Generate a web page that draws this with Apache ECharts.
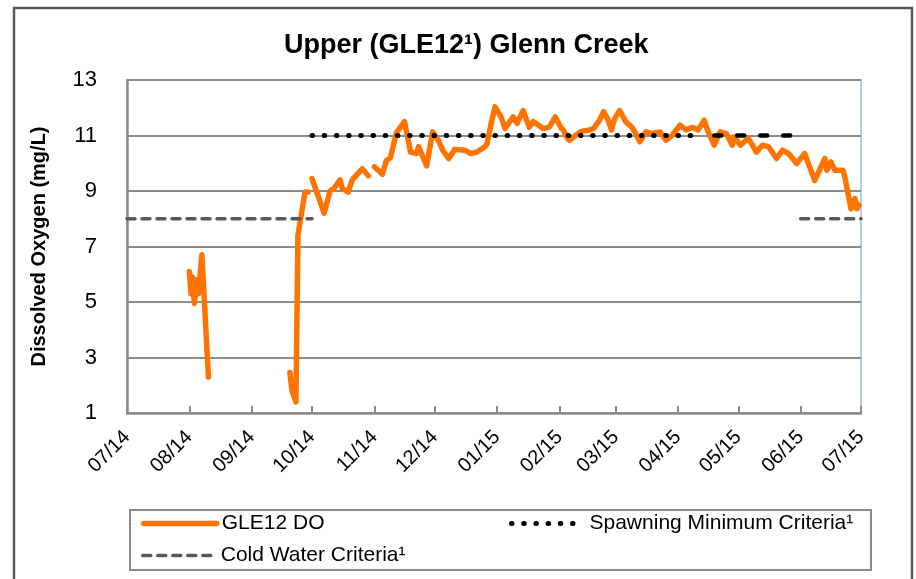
<!DOCTYPE html>
<html>
<head>
<meta charset="utf-8">
<script src="https://cdn.jsdelivr.net/npm/echarts@6/dist/echarts.min.js"></script>
<style>
  html, body { margin: 0; padding: 0; background: #fff; }
  #chart { width: 916px; height: 579px; }
</style>
</head>
<body>
<div id="chart"></div>
<script>
// ── Data ───────────────────────────────────────────────────────────────────
const titleText = "Upper (GLE12\u00B9) Glenn Creek";
const yAxisTitle = "Dissolved Oxygen (mg/L)";
const yTicks = [1, 3, 5, 7, 9, 11, 13];
const monthTicks = [
  "2014-07-01", "2014-08-01", "2014-09-01", "2014-10-01", "2014-11-01",
  "2014-12-01", "2015-01-01", "2015-02-01", "2015-03-01", "2015-04-01",
  "2015-05-01", "2015-06-01", "2015-07-01",
];

// GLE12 DO, null = gap in record
const doDates = [
  "2014-08-01 00:00", "2014-08-01 20:00", "2014-08-02 12:00", "2014-08-03 12:00",
  "2014-08-04 18:00", "2014-08-05 12:00", "2014-08-07 06:00", "2014-08-10 12:00",
  "2014-08-20",
  "2014-09-20", "2014-09-21", "2014-09-23", "2014-09-24", "2014-09-27 12:00",
  "2014-09-29", "2014-09-30",
  "2014-10-01", "2014-10-07", "2014-10-10", "2014-10-12", "2014-10-15",
  "2014-10-16", "2014-10-19", "2014-10-21", "2014-10-26", "2014-10-29",
  "2014-10-31",
  "2014-11-01", "2014-11-05", "2014-11-07", "2014-11-09", "2014-11-12",
  "2014-11-16", "2014-11-19", "2014-11-22", "2014-11-23", "2014-11-27",
  "2014-11-30", "2014-12-03", "2014-12-05", "2014-12-08", "2014-12-11",
  "2014-12-16", "2014-12-19", "2014-12-22", "2014-12-26", "2014-12-27",
  "2014-12-29", "2014-12-31", "2015-01-03", "2015-01-05", "2015-01-09",
  "2015-01-11", "2015-01-14", "2015-01-17", "2015-01-19", "2015-01-24",
  "2015-01-27", "2015-01-30", "2015-02-02", "2015-02-03", "2015-02-05",
  "2015-02-06", "2015-02-09", "2015-02-12", "2015-02-16", "2015-02-18",
  "2015-02-21", "2015-02-23", "2015-02-25", "2015-02-27", "2015-02-28",
  "2015-03-01", "2015-03-03", "2015-03-06", "2015-03-09", "2015-03-11",
  "2015-03-13", "2015-03-16", "2015-03-19", "2015-03-23", "2015-03-26",
  "2015-03-29", "2015-04-02", "2015-04-05", "2015-04-08", "2015-04-11",
  "2015-04-14", "2015-04-16", "2015-04-19", "2015-04-22", "2015-04-25",
  "2015-04-28", "2015-04-29", "2015-05-02", "2015-05-06", "2015-05-10",
  "2015-05-13", "2015-05-16", "2015-05-20", "2015-05-23", "2015-05-26",
  "2015-05-30", "2015-06-03", "2015-06-08", "2015-06-13", "2015-06-14",
  "2015-06-16", "2015-06-18", "2015-06-22", "2015-06-23", "2015-06-26",
  "2015-06-28", "2015-06-29", "2015-06-30",
];
const doValues = [
  6.1, 5.3, 5.9, 4.95,
  5.8, 5.3, 6.7, 2.3,
  null,
  2.46, 1.8, 1.4, 7.4, 8.96,
  8.96, null,
  9.45, 8.2, 9.0, 9.1, 9.4,
  9.1, 8.96, 9.4, 9.8, 9.55,
  null,
  9.87, 9.6, 10.1, 10.2, 11.1,
  11.5, 10.4, 10.35, 10.6, 9.9,
  11.13, 10.8, 10.47, 10.17, 10.5,
  10.47, 10.35, 10.4, 10.6, 10.7,
  11.4, 12.03, 11.67, 11.25, 11.67,
  11.44, 11.9, 11.3, 11.5, 11.25,
  11.3, 11.67, 11.25, 11.2, 10.9,
  10.83, 11.0, 11.15, 11.2, 11.25,
  11.55, 11.86, 11.6, 11.2, 11.5,
  11.67, 11.9, 11.5, 11.3, 11.07,
  10.77, 11.13, 11.07, 11.13, 10.83,
  11.0, 11.37, 11.2, 11.3, 11.2,
  11.55, 11.13, 10.65, 11.13, 11.07,
  10.65, 10.95, 10.65, 10.9, 10.4,
  10.65, 10.6, 10.17, 10.47, 10.35,
  9.99, 10.35, 9.38, 10.17, 9.75,
  10.05, 9.75, 9.75, 9.5, 8.36,
  8.73, 8.36, 8.5,
];

// Spawning minimum criteria (dotted part, then dashed tail)
const spawnDates = ["2014-10-01", "2015-04-13"];
const spawnValues = [11, 11];
const spawnTailDates = ["2015-04-19", "2015-05-31"];
const spawnTailValues = [11, 11];

// Cold water criteria
const coldDates = ["2014-07-01", "2014-10-01", "2015-01-01", "2015-06-01", "2015-07-01"];
const coldValues = [8, 8, null, 8, 8];

// ── Helpers ────────────────────────────────────────────────────────────────
const FONT = "'Liberation Sans', Arial, sans-serif";

// "YYYY-MM-DD[ HH:mm]" → local timestamp (ms)
function toTime(s) {
  const [day, clock] = s.split(" ");
  const p = day.split("-").map(Number);
  const hm = clock ? clock.split(":").map(Number) : [0, 0];
  return new Date(p[0], p[1] - 1, p[2], hm[0], hm[1]).getTime();
}

function pair(dates, values) {
  return dates.map((d, i) => [toTime(d), values[i]]);
}

const tickTimes = monthTicks.map(toTime);

function monthLabel(v) {
  const d = new Date(v);
  const mm = String(d.getMonth() + 1).padStart(2, "0");
  const yy = String(d.getFullYear() % 100).padStart(2, "0");
  return mm + "/" + yy;
}

// ── Chart ──────────────────────────────────────────────────────────────────
const chart = echarts.init(document.getElementById("chart"), null, { renderer: "canvas" });

// legend icons: plain line, no symbol in the middle
const legendCommon = {
  orient: "horizontal",
  padding: 0,
  itemGap: 0,
  itemWidth: 73,
  itemHeight: 14,
  selectedMode: false,
  itemStyle: { opacity: 0 },
  textStyle: { fontSize: 21, color: "#000", fontFamily: FONT },
};

chart.setOption({
  backgroundColor: "#fff",
  animation: false,
  title: {
    text: titleText,
    left: 279,
    top: 27,
    textStyle: { fontSize: 27, fontWeight: "bold", color: "#000", fontFamily: FONT },
  },
  legend: [
    Object.assign({
      data: [{ name: "GLE12 DO", lineStyle: { width: 5.5, cap: "round" } }],
      left: 141, top: 513,
    }, legendCommon),
    Object.assign({
      data: [{ name: "Spawning Minimum Criteria\u00B9", lineStyle: { width: 5, cap: "round" } }],
      left: 509, top: 513,
    }, legendCommon),
    Object.assign({
      data: [{ name: "Cold Water Criteria\u00B9", lineStyle: { width: 3.5, cap: "round" } }],
      left: 141, top: 545,
    }, legendCommon),
  ],
  grid: {
    left: 127,
    right: 55,
    top: 80,
    bottom: 166,
    show: true,
    borderColor: "#b9cde5",
    borderWidth: 2,
    backgroundColor: "#fff",
  },
  xAxis: {
    type: "value",
    min: tickTimes[0],
    max: tickTimes[tickTimes.length - 1],
    axisLine: { lineStyle: { color: "#8c8c8c", width: 2.5 } },
    axisTick: {
      inside: true,
      length: 7,
      customValues: tickTimes,
      lineStyle: { color: "#8c8c8c", width: 2 },
    },
    axisLabel: {
      customValues: tickTimes,
      rotate: 45,
      margin: 21,
      padding: [24, 0, 0, 0],
      fontSize: 20,
      color: "#000",
      fontFamily: FONT,
      formatter: monthLabel,
      hideOverlap: false,
    },
    splitLine: { show: false },
  },
  yAxis: {
    type: "value",
    min: yTicks[0],
    max: yTicks[yTicks.length - 1],
    interval: 2,
    name: yAxisTitle,
    nameLocation: "middle",
    nameGap: 78,
    nameTextStyle: { fontSize: 20, fontWeight: "bold", color: "#000", fontFamily: FONT },
    axisLine: { show: true, lineStyle: { color: "#8c8c8c", width: 2.5 } },
    axisTick: { show: false },
    axisLabel: { margin: 30, fontSize: 22, color: "#000", fontFamily: FONT },
    splitLine: { lineStyle: { color: "#8c8c8c", width: 2 } },
  },
  series: [
    {
      name: "GLE12 DO",
      type: "line",
      data: pair(doDates, doValues),
      symbol: "none",
      showSymbol: false,
      connectNulls: false,
      color: "#ff7400",
      lineStyle: { color: "#ff7400", width: 5.5, join: "round", cap: "round" },
      z: 2,
    },
    {
      name: "Spawning Minimum Criteria\u00B9",
      type: "line",
      data: pair(spawnDates, spawnValues),
      symbol: "none",
      showSymbol: false,
      color: "#000",
      lineStyle: { color: "#000", width: 5, type: [0.5, 11.7], cap: "round" },
      z: 3,
    },
    {
      name: "spawnTail",
      type: "line",
      data: pair(spawnTailDates, spawnTailValues),
      symbol: "none",
      showSymbol: false,
      color: "#000",
      lineStyle: { color: "#000", width: 4.5, type: [7, 16], cap: "round" },
      z: 3,
    },
    {
      name: "Cold Water Criteria\u00B9",
      type: "line",
      data: pair(coldDates, coldValues),
      symbol: "none",
      showSymbol: false,
      connectNulls: false,
      color: "#595959",
      lineStyle: { color: "#595959", width: 3.5, type: [8, 7], cap: "round" },
      z: 3,
    },
  ],
  graphic: [
    {
      type: "rect",
      shape: { x: 14, y: 8, width: 898, height: 620 },
      style: { fill: "none", stroke: "#595959", lineWidth: 2.5 },
      silent: true,
    },
    {
      type: "rect",
      shape: { x: 130, y: 510, width: 741, height: 60 },
      style: { fill: "none", stroke: "#8c8c8c", lineWidth: 2 },
      silent: true,
    },
  ],
});

window.addEventListener("resize", () => chart.resize());
</script>
</body>
</html>
